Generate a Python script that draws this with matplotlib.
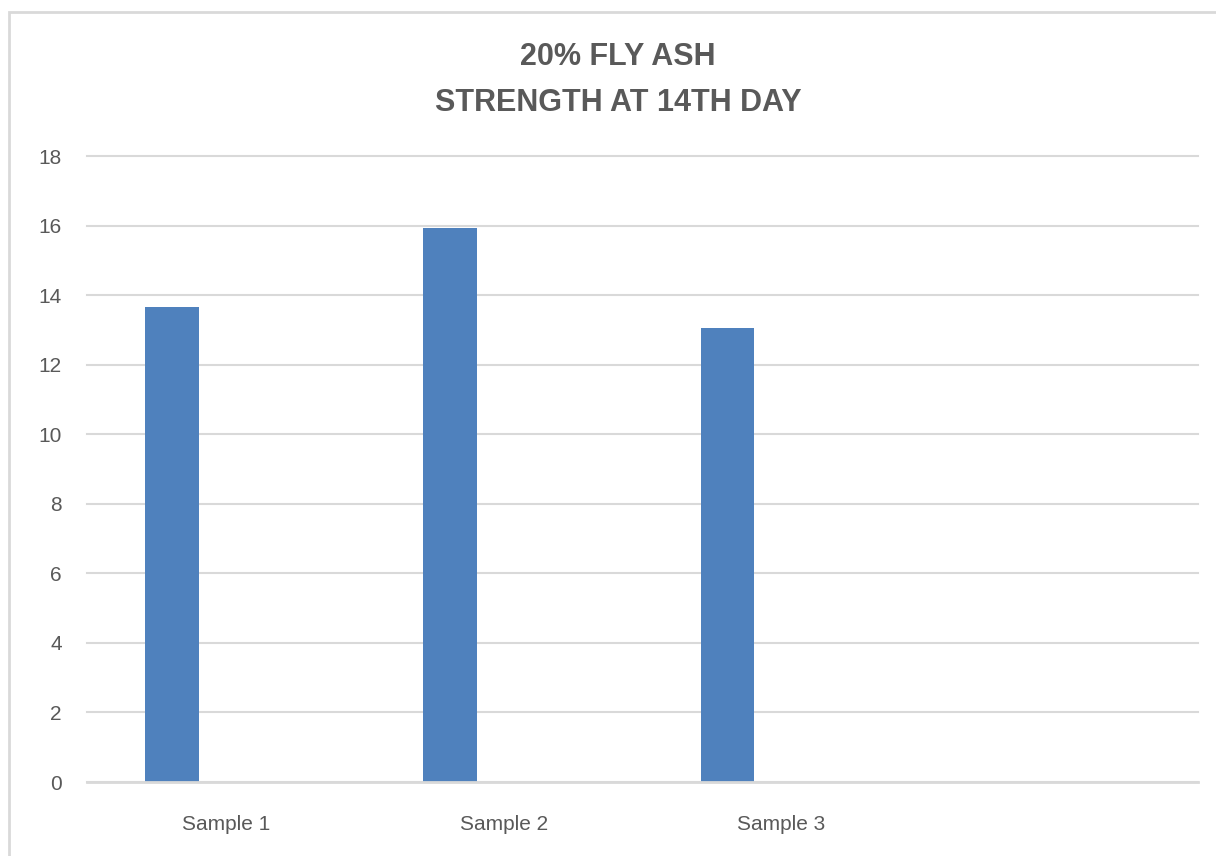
import matplotlib
matplotlib.use("Agg")
import matplotlib.pyplot as plt
from matplotlib.patches import Rectangle
import numpy as np

# Chart data
categories = ["Sample 1", "Sample 2", "Sample 3", ""]
strength = [13.65, 15.93, 13.06]
title_lines = ["20% FLY ASH", "STRENGTH AT 14TH DAY"]
y_ticks = list(range(0, 19, 2))

BAR_COLOR = "#4F81BD"
TEXT_COLOR = "#595959"
GRID_COLOR = "#D9D9D9"

plt.rcParams["font.family"] = ["Liberation Sans", "DejaVu Sans"]

W, H = 1216, 856
fig = plt.figure(figsize=(W / 100, H / 100), dpi=100)
fig.patch.set_facecolor("white")

# Chart-area frame (runs off the right and bottom edges)
fig.add_artist(Rectangle((9 / W, -0.05), 1.1, 1 - 12 / H + 0.05,
                         transform=fig.transFigure, fill=False,
                         edgecolor=GRID_COLOR, linewidth=2.0))

ax = fig.add_axes([87 / W, 1 - 782 / H, (1198 - 87) / W, (782 - 156) / H])

# Clustered layout: three series slots per category, only the first has data
n_slots = 3
bar_w = 0.194
x = np.arange(len(strength))
ax.bar(x + (0 - (n_slots - 1) / 2) * bar_w, strength, width=bar_w,
       color=BAR_COLOR, zorder=3)

ax.set_xlim(-0.5, len(categories) - 0.5)
ax.set_ylim(y_ticks[0], y_ticks[-1])
ax.set_xticks(np.arange(len(categories)))
ax.set_xticklabels(categories)
ax.set_yticks(y_ticks)

ax.grid(axis="y", color=GRID_COLOR, linewidth=1.5, zorder=0)
for gl in ax.get_ygridlines():
    gl.set_clip_on(False)
ax.set_axisbelow(True)
for side in ["top", "right", "left"]:
    ax.spines[side].set_visible(False)
ax.spines["bottom"].set_color(GRID_COLOR)
ax.spines["bottom"].set_linewidth(2.0)
ax.spines["bottom"].set_zorder(4)

ax.tick_params(axis="both", length=0, labelsize=15, labelcolor=TEXT_COLOR)
ax.tick_params(axis="y", pad=18)
ax.tick_params(axis="x", pad=24)

fig.text(618 / W, 1 - 57 / H, title_lines[0], ha="center", va="center",
         fontsize=22, fontweight="bold", color=TEXT_COLOR)
fig.text(618 / W, 1 - 103 / H, title_lines[1], ha="center", va="center",
         fontsize=22, fontweight="bold", color=TEXT_COLOR)

fig.savefig("out.png", dpi=100, facecolor="white")
